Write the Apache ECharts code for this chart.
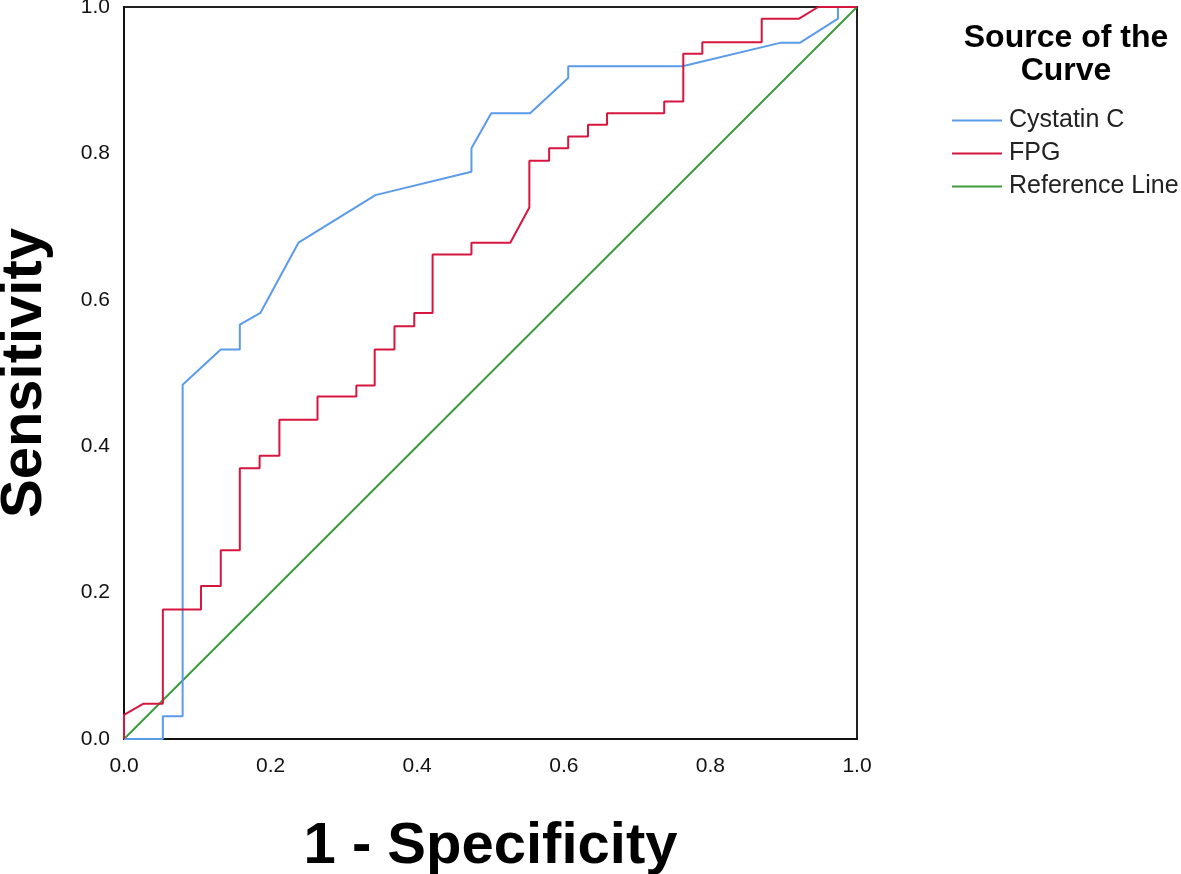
<!DOCTYPE html>
<html>
<head>
<meta charset="utf-8">
<script src="https://cdn.jsdelivr.net/npm/echarts@6/dist/echarts.min.js"></script>
<style>
html,body{margin:0;padding:0;background:#fff;}
#chart{width:1181px;height:874px;}
</style>
</head>
<body>
<div id="chart"></div>
<script>
// ---- Data ----
const seriesNames = ['Cystatin C', 'FPG', 'Reference Line'];
const axisTicks = [0.0, 0.2, 0.4, 0.6, 0.8, 1.0];

const cystatinX = [0, 0.053, 0.053, 0.080, 0.080, 0.132, 0.158, 0.158, 0.186, 0.238, 0.343, 0.474, 0.474, 0.501, 0.554, 0.606, 0.606, 0.762, 0.895, 0.922, 0.974, 0.974, 1];
const cystatinY = [0, 0, 0.031, 0.031, 0.484, 0.532, 0.532, 0.566, 0.582, 0.678, 0.743, 0.775, 0.807, 0.855, 0.855, 0.903, 0.919, 0.919, 0.951, 0.951, 0.984, 1, 1];

const fpgX = [0, 0, 0.026, 0.053, 0.053, 0.105, 0.105, 0.132, 0.132, 0.158, 0.158, 0.185, 0.185, 0.212, 0.212, 0.264, 0.264, 0.317, 0.317, 0.342, 0.342, 0.369, 0.369, 0.396, 0.396, 0.421, 0.421, 0.474, 0.474, 0.527, 0.553, 0.553, 0.580, 0.580, 0.606, 0.606, 0.633, 0.633, 0.659, 0.659, 0.737, 0.737, 0.763, 0.763, 0.789, 0.789, 0.870, 0.870, 0.921, 0.947, 1];
const fpgY = [0, 0.033, 0.048, 0.048, 0.177, 0.177, 0.209, 0.209, 0.258, 0.258, 0.370, 0.370, 0.387, 0.387, 0.436, 0.436, 0.468, 0.468, 0.483, 0.483, 0.532, 0.532, 0.564, 0.564, 0.582, 0.582, 0.662, 0.662, 0.678, 0.678, 0.726, 0.790, 0.790, 0.807, 0.807, 0.823, 0.823, 0.839, 0.839, 0.855, 0.855, 0.871, 0.871, 0.936, 0.936, 0.952, 0.952, 0.984, 0.984, 1, 1];

const refX = [0, 1];
const refY = [0, 1];

const colors = ['#5b9bea', '#d6163f', '#3d9a3d'];

function pairs(xs, ys) { return xs.map((x, i) => [x, ys[i]]); }

const chart = echarts.init(document.getElementById('chart'), null, {renderer: 'canvas'});
const FONT = '"Liberation Sans", Arial, sans-serif';

chart.setOption({
  animation: false,
  backgroundColor: '#fff',
  grid: {left: 124, top: 7, width: 733, height: 732, containLabel: false, outerBoundsMode: 'none',
    show: true, borderColor: '#222', borderWidth: 2, backgroundColor: 'transparent'},
  xAxis: {
    type: 'value', min: 0, max: 1, interval: 0.2,
    name: '1 - Specificity', nameLocation: 'middle', nameGap: 79,
    nameTextStyle: {fontFamily: FONT, fontSize: 58, fontWeight: 'bold', color: '#000'},
    axisLine: {show: true, lineStyle: {color: '#111', width: 2}},
    axisTick: {show: false},
    splitLine: {show: false},
    axisLabel: {fontFamily: FONT, fontSize: 21, color: '#111', margin: 17,
      formatter: v => axisTicks.find(t => Math.abs(t - v) < 1e-9) !== undefined ? v.toFixed(1) : ''}
  },
  yAxis: {
    type: 'value', min: 0, max: 1, interval: 0.2,
    name: 'Sensitivity', nameLocation: 'middle', nameGap: 70, nameRotate: 90,
    nameTextStyle: {fontFamily: FONT, fontSize: 58, fontWeight: 'bold', color: '#000'},
    axisLine: {show: true, lineStyle: {color: '#111', width: 2}},
    axisTick: {show: false},
    splitLine: {show: false},
    axisLabel: {fontFamily: FONT, fontSize: 21, color: '#111', margin: 14,
      formatter: v => v.toFixed(1)}
  },
  legend: {
    orient: 'vertical', left: 947, top: 103,
    itemWidth: 50, itemHeight: 2, itemGap: 8,
    icon: 'rect',
    data: seriesNames,
    textStyle: {fontFamily: FONT, fontSize: 25, color: '#222', padding: [0, 0, 0, 2]}
  },
  graphic: [{
    type: 'text', x: 1066, y: 22,
    style: {
      text: 'Source of the\nCurve',
      font: 'bold 32px "Liberation Sans", Arial, sans-serif',
      fill: '#000', align: 'center', verticalAlign: 'top', lineHeight: 33
    }
  }],
  series: [
    {name: seriesNames[0], type: 'line', data: pairs(cystatinX, cystatinY), symbol: 'none', lineStyle: {color: colors[0], width: 2}, itemStyle: {color: colors[0]}, z: 3},
    {name: seriesNames[1], type: 'line', data: pairs(fpgX, fpgY), symbol: 'none', lineStyle: {color: colors[1], width: 2}, itemStyle: {color: colors[1]}, z: 4},
    {name: seriesNames[2], type: 'line', data: pairs(refX, refY), symbol: 'none', lineStyle: {color: colors[2], width: 2}, itemStyle: {color: colors[2]}, z: 2}
  ]
});
</script>
</body>
</html>
